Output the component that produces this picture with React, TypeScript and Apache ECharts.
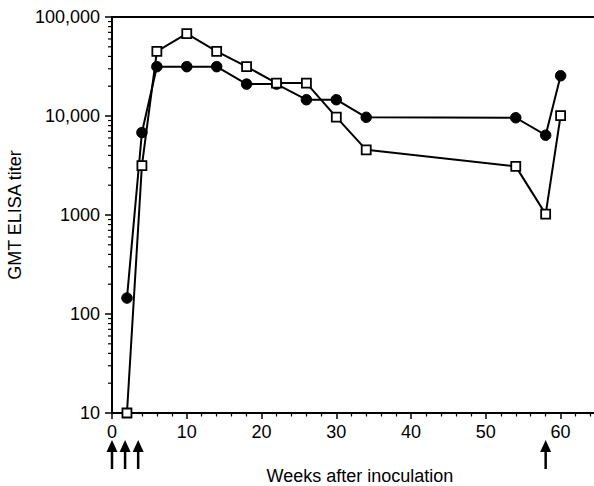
import React, { useEffect, useRef } from 'react';
import * as echarts from 'echarts';

const weeks = [2, 4, 6, 10, 14, 18, 22, 26, 30, 34, 54, 58, 60];
const circleTiters = [145, 6800, 31500, 31500, 31500, 21000, 21000, 14600, 14600, 9700, 9600, 6400, 25500];
const squareTiters = [10, 3150, 45000, 68000, 45000, 31500, 21500, 21500, 9750, 4550, 3100, 1020, 10100];
const inoculationWeeks = [0, 1.75, 3.5, 58];
const xTickLabels = ['0', '10', '20', '30', '40', '50', '60'];
const yTickValues = [10, 100, 1000, 10000, 100000];
const yTickLabels = ['10', '100', '1000', '10,000', '100,000'];
const yMinorTicks = [
  20, 30, 40, 50, 60, 70, 80, 90,
  200, 300, 400, 500, 600, 700, 800, 900,
  2000, 3000, 4000, 5000, 6000, 7000, 8000, 9000,
  20000, 30000, 40000, 50000, 60000, 70000, 80000, 90000,
];

const FONT = '"Liberation Sans", Arial, Helvetica, sans-serif';

export default function App() {
  const ref = useRef<HTMLDivElement>(null);
  useEffect(() => {
    if (!ref.current) return;
    const chart = echarts.init(ref.current, undefined, { renderer: 'svg' });
    const option: any = {
      animation: false,
      textStyle: { fontFamily: FONT, color: '#000' },
      grid: { left: 112, top: 17, bottom: 73, right: -4, outerBoundsMode: 'none', containLabel: false },
      xAxis: [
        {
          type: 'value',
          min: 0,
          max: 65,
          interval: 10,
          name: 'Weeks after inoculation',
          nameLocation: 'middle',
          nameGap: 54,
          nameTextStyle: { fontSize: 18, color: '#000', fontFamily: FONT, padding: [0, 0, 0, 10] },
          axisLine: { lineStyle: { color: '#000', width: 2 } },
          axisTick: { length: 6, lineStyle: { color: '#000', width: 1.5 } },
          minorTick: { show: true, splitNumber: 5, length: 3.5, lineStyle: { color: '#000', width: 1.2 } },
          axisLabel: {
            fontSize: 18,
            color: '#000',
            margin: 10,
            fontFamily: FONT,
            showMaxLabel: false,
            formatter: (v: number) => {
              const s = String(Math.round(v));
              return xTickLabels.indexOf(s) >= 0 ? s : '';
            },
          },
          splitLine: { show: false },
        },
        {
          type: 'value',
          position: 'top',
          min: 0,
          max: 65,
          interval: 10,
          axisLine: { show: true, lineStyle: { color: '#000', width: 2 } },
          axisTick: { show: false },
          axisLabel: { show: false },
          splitLine: { show: false },
        },
      ],
      yAxis: {
        type: 'log',
        logBase: 10,
        min: 10,
        max: 100000,
        name: 'GMT ELISA titer',
        nameLocation: 'middle',
        nameGap: 78,
        nameRotate: 90,
        nameTextStyle: { fontSize: 18, color: '#000', fontFamily: FONT },
        axisLine: { show: true, lineStyle: { color: '#000', width: 2 } },
        axisTick: { show: true, length: 7, lineStyle: { color: '#000', width: 1.5 } },
        axisLabel: {
          fontSize: 18,
          color: '#000',
          margin: 12,
          fontFamily: FONT,
          formatter: (v: number) => {
            const i = yTickValues.findIndex((t) => Math.abs(t - v) / t < 1e-6);
            return i >= 0 ? yTickLabels[i] : '';
          },
        },
        splitLine: { show: false },
      },
      series: [
        {
          type: 'custom',
          silent: true,
          clip: false,
          data: yMinorTicks.map((v) => [0, v]),
          renderItem: (params: any, api: any) => {
            const p = api.coord([api.value(0), api.value(1)]);
            return {
              type: 'line',
              shape: { x1: p[0] - 4, y1: p[1], x2: p[0], y2: p[1] },
              style: { stroke: '#000', lineWidth: 1.2 },
            };
          },
        },
        {
          type: 'custom',
          silent: true,
          clip: false,
          data: inoculationWeeks.map((w) => [w, 10]),
          renderItem: (params: any, api: any) => {
            const p = api.coord([api.value(0), api.value(1)]);
            const x = p[0];
            const y0 = p[1];
            return {
              type: 'group',
              children: [
                {
                  type: 'line',
                  shape: { x1: x, y1: y0 + 36, x2: x, y2: y0 + 56 },
                  style: { stroke: '#000', lineWidth: 2.5 },
                },
                {
                  type: 'polygon',
                  shape: { points: [[x, y0 + 27], [x - 5.5, y0 + 39], [x + 5.5, y0 + 39]] },
                  style: { fill: '#000' },
                },
              ],
            };
          },
        },
        {
          type: 'line',
          data: weeks.map((w, i) => [w, circleTiters[i]]),
          symbol: 'circle',
          symbolSize: 10.5,
          lineStyle: { color: '#000', width: 2 },
          itemStyle: { color: '#000', borderColor: '#000' },
          z: 3,
        },
        {
          type: 'line',
          data: weeks.map((w, i) => [w, squareTiters[i]]),
          symbol: 'rect',
          symbolSize: 9,
          showAllSymbol: true,
          lineStyle: { color: '#000', width: 2 },
          itemStyle: { color: '#fff', borderColor: '#000', borderWidth: 1.8 },
          z: 4,
        },
      ],
    };
    chart.setOption(option);
    return () => chart.dispose();
  }, []);
  return <div ref={ref} style={{ width: 594, height: 486, position: 'absolute', left: 0, top: 0 }} />;
}
